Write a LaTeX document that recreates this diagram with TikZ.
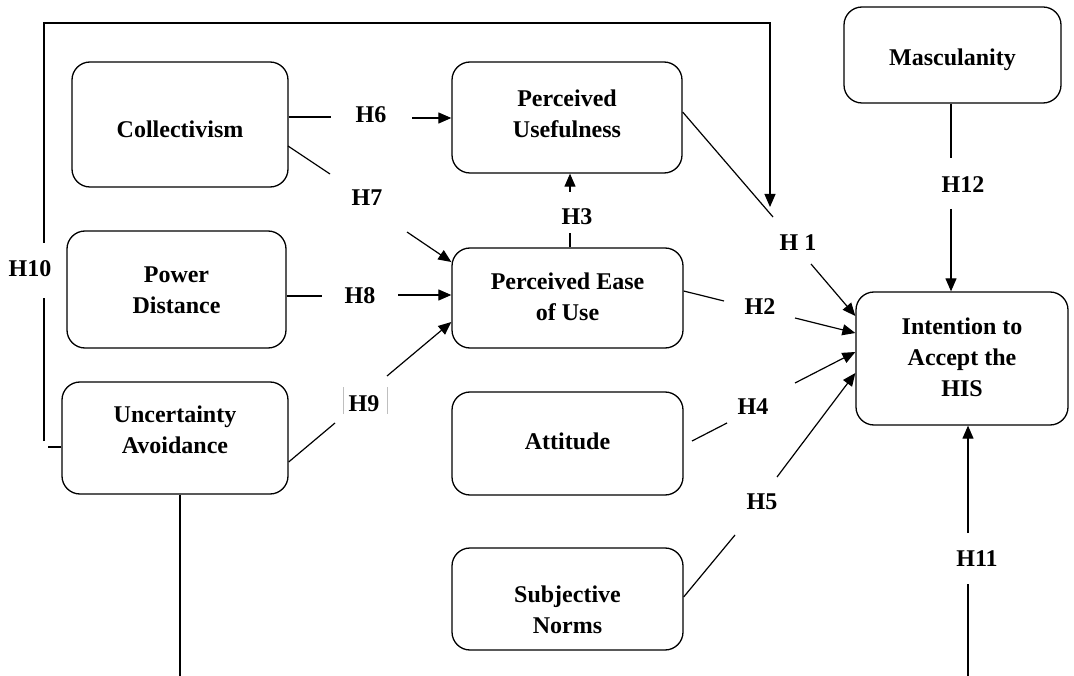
\documentclass[tikz,border=0pt]{standalone}
\usepackage{fontspec}
\setmainfont{Liberation Serif}
\usetikzlibrary{arrows.meta}
\newcommand{\boxtext}[2]{\raisebox{#1}[\height][\depth]{\begin{tabular}{@{}c@{}}#2\end{tabular}}}
\tikzset{
  box/.style={draw, line width=1.3pt, rounded corners=18pt, align=center, inner sep=0pt,
    font=\fontsize{24}{31}\selectfont\bfseries},
  hyp/.style={inner sep=0pt, font=\fontsize{24}{28}\selectfont\bfseries},
  conn/.style={line width=1.2pt},
  arr/.style={line width=1.2pt, -{Triangle[length=13pt,width=11pt]}},
  bar/.style={line width=0.6pt, black!25}
}
\begin{document}
\begin{tikzpicture}[x=1pt,y=-1pt]
\useasboundingbox (0,0) rectangle (1074,676);
% boxes
\node[box, minimum width=216pt, minimum height=125pt] (coll) at (180,124.5) {\boxtext{-7pt}{Collectivism}};
\node[box, minimum width=230pt, minimum height=111pt] (pu) at (567,117.5) {\boxtext{2pt}{Perceived\\Usefulness}};
\node[box, minimum width=217pt, minimum height=96pt] (masc) at (952.5,55) {\boxtext{-4pt}{Masculanity}};
\node[box, minimum width=219pt, minimum height=117pt] (pd) at (176.5,289.5) {\boxtext{-2pt}{Power\\Distance}};
\node[box, minimum width=231pt, minimum height=100pt] (peou) at (567.5,298) {\boxtext{-1pt}{Perceived Ease\\of Use}};
\node[box, minimum width=212pt, minimum height=133pt] (int) at (962,358.5) {\boxtext{-1pt}{Intention to\\Accept the\\HIS}};
\node[box, minimum width=226pt, minimum height=112pt] (ua) at (175,438) {\boxtext{6pt}{Uncertainty\\Avoidance}};
\node[box, minimum width=231pt, minimum height=103pt] (att) at (567.5,443.5) {\boxtext{0pt}{Attitude}};
\node[box, minimum width=231pt, minimum height=102pt] (sn) at (567.5,599) {\boxtext{-13pt}{Subjective\\Norms}};
% labels
\node[hyp] (h1) at (798,243) {H 1};
\node[hyp] (h2) at (760,307) {H2};
\node[hyp] (h3) at (577,217) {H3};
\node[hyp] (h4) at (753,407) {H4};
\node[hyp] (h5) at (762,502) {H5};
\node[hyp] (h6) at (371,115) {H6};
\node[hyp] (h7) at (367,198) {H7};
\node[hyp] (h8) at (360,296) {H8};
\node[hyp] (h9) at (364,404) {H9};
\node[hyp] (h10) at (30,269) {H10};
\node[hyp] (h11) at (977,559) {H11};
\node[hyp] (h12) at (963,185) {H12};
% gap end coordinates
\coordinate (h1a) at (773,217); \coordinate (h1b) at (811,264);
\coordinate (h2a) at (724,301); \coordinate (h2b) at (795,318);
\coordinate (h3a) at (570,233); \coordinate (h3b) at (570,192);
\coordinate (h4s) at (692,441); \coordinate (h4a) at (727,423); \coordinate (h4b) at (795,383);
\coordinate (h5a) at (735,535); \coordinate (h5b) at (777,477);
\coordinate (h6a) at (331,117); \coordinate (h6b) at (412,118);
\coordinate (h7s) at (288,146); \coordinate (h7a) at (330,174); \coordinate (h7b) at (407,232);
\coordinate (h8a) at (322,296); \coordinate (h8b) at (398,295);
\coordinate (h9a) at (335,423); \coordinate (h9b) at (387,376);
\coordinate (h10a) at (44,441); \coordinate (h10b) at (44,298); \coordinate (h10c) at (44,243);
\coordinate (h10d) at (44,23); \coordinate (h10e) at (770,23); \coordinate (h10f) at (48,447);
\coordinate (h11a) at (968,584); \coordinate (h11b) at (968,533); \coordinate (h11z) at (968,676);
\coordinate (h12a) at (951,158); \coordinate (h12b) at (951,209);
\coordinate (uaz) at (180,676);
% H1
\draw[conn] (pu.east |- 0,112) -- (h1a);
\draw[arr] (h1b) -- (int.west |- 0,316);
% H2
\draw[conn] (peou.east |- 0,291) -- (h2a);
\draw[arr] (h2b) -- (int.west |- 0,333);
% H3
\draw[conn] (peou.north -| h3a) -- (h3a);
\draw[arr] (h3b) -- (pu.south -| h3b);
% H4
\draw[conn] (h4s) -- (h4a);
\draw[arr] (h4b) -- (int.west |- 0,352);
% H5
\draw[conn] (sn.east |- 0,597) -- (h5a);
\draw[arr] (h5b) -- (int.west |- 0,373);
% H6
\draw[conn] (coll.east |- h6a) -- (h6a);
\draw[arr] (h6b) -- (pu.west |- h6b);
% H7
\draw[conn] (h7s) -- (h7a);
\draw[arr] (h7b) -- (peou.west |- 0,262);
% H8
\draw[conn] (pd.east |- h8a) -- (h8a);
\draw[arr] (h8b) -- (peou.west |- h8b);
% H9
\draw[conn] (ua.east |- 0,462) -- (h9a);
\draw[arr] (h9b) -- (peou.west |- 0,322);
\draw[bar] (343,387) -- (343,414);
\draw[bar] (387,387) -- (387,414);
% H10
\draw[conn] (ua.west |- h10f) -- (h10f);
\draw[conn] (h10a) -- (h10b);
\draw[arr] (h10c) -- (h10d) -- (h10e) -- (770,207);
% H11
\draw[conn] (h11z) -- (h11a);
\draw[arr] (h11b) -- (int.south -| h11b);
% H12
\draw[conn] (masc.south -| h12a) -- (h12a);
\draw[arr] (h12b) -- (int.north -| h12b);
% UA bottom line
\draw[conn] (ua.south -| uaz) -- (uaz);
\end{tikzpicture}
\end{document}
